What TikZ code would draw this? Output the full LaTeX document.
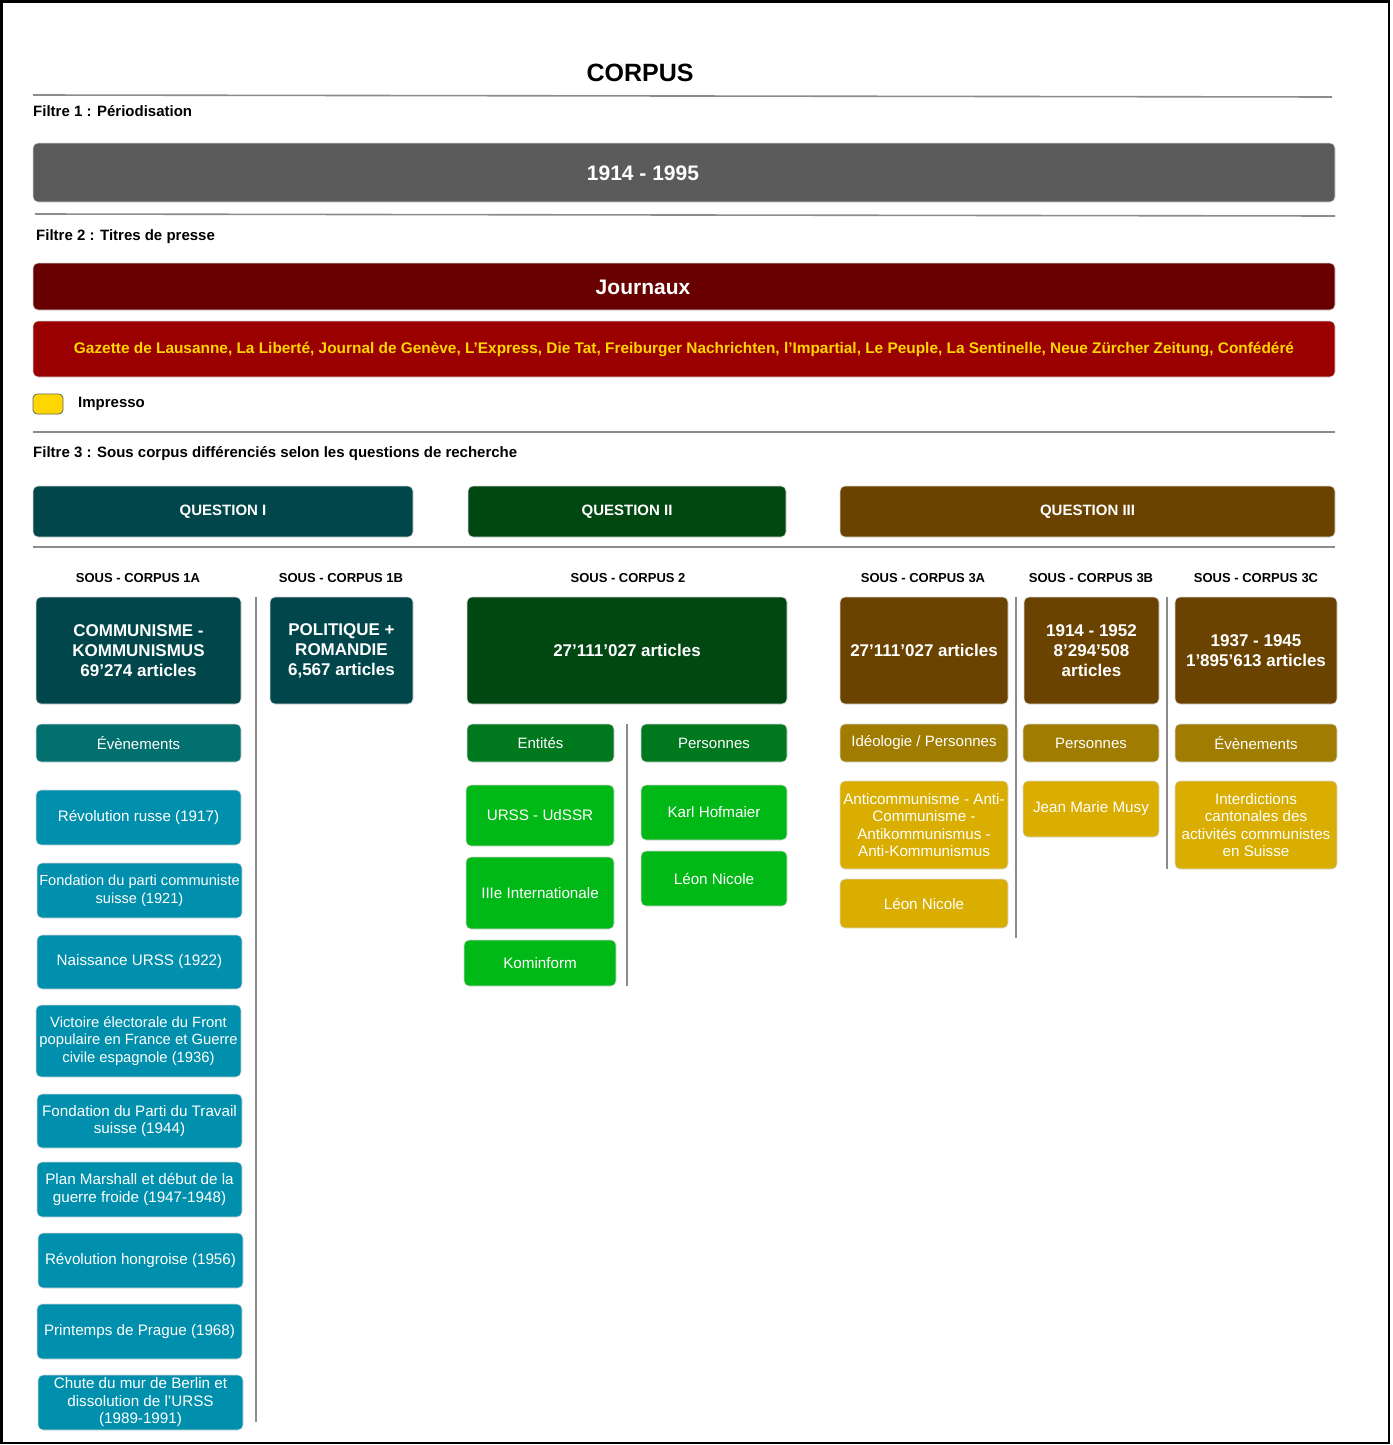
\documentclass[tikz,border=0pt]{standalone}
\usepackage{fontspec}
\setmainfont{Liberation Sans}
\definecolor{cgray}{HTML}{5B5B5B}
\definecolor{cjour}{HTML}{680000}
\definecolor{cred}{HTML}{9A0000}
\definecolor{cyel}{HTML}{FFD600}
\definecolor{ctealD}{HTML}{01464A}
\definecolor{ctealM}{HTML}{01706F}
\definecolor{ctealL}{HTML}{0090AD}
\definecolor{cgrnD}{HTML}{004711}
\definecolor{cgrnM}{HTML}{00791E}
\definecolor{cgrnL}{HTML}{00B816}
\definecolor{cbrnD}{HTML}{6A4300}
\definecolor{cbrnM}{HTML}{A07D00}
\definecolor{cbrnL}{HTML}{D9AE00}
\definecolor{cline}{HTML}{8C8C8C}
\newcommand\bx[7]{\node[#1, minimum width={(#4)-(#2)}, minimum height={(#5)-(#3)}] (#6) at ({((#2)+(#4))/2},{((#3)+(#5))/2}) {#7};}
\tikzset{
  boxbase/.style={rounded corners=5pt, inner sep=1pt, inner xsep=0pt, align=center, text=white, draw=black!15, line width=0.6pt},
  bigtxt/.style={inner sep=0pt, text=white, font=\fontsize{21}{24}\selectfont\bfseries},
  qbox/.style={boxbase, font=\fontsize{15}{18}\selectfont\bfseries},
  mainbox/.style={boxbase, font=\fontsize{17}{20}\selectfont\bfseries},
  catbox/.style={boxbase, font=\fontsize{15}{17.5}\selectfont},
  itembox/.style={boxbase, font=\fontsize{15.2}{17.5}\selectfont},
  lbl/.style={inner sep=0pt, anchor=west, font=\fontsize{15}{18}\selectfont\bfseries},
  sclbl/.style={inner sep=0pt, font=\fontsize{13}{15}\selectfont\bfseries},
  rule/.style={draw=cline, line width=1.6pt},
  sep/.style={draw=cline, line width=1.8pt},
}
\begin{document}
\begin{tikzpicture}[x=1pt,y=-1pt]
\useasboundingbox (0,0) rectangle (1392,1445);
\fill[white] (0,0) rectangle (1392,1445);
\draw[line width=2.4pt] (1.5,1.5) rectangle (1389,1443);

\node[inner sep=0pt, font=\fontsize{25}{30}\selectfont\bfseries] (title) at (640,73) {CORPUS};
\draw[rule] (33,95) -- (1332,97);
\node[lbl] (f1) at (33,111) {Filtre 1 : Périodisation};
\bx{boxbase, fill=cgray}{33}{143}{1335}{202}{period}{}
\node[bigtxt] (periodtxt) at (643,173) {1914 - 1995};
\draw[rule] (35,214) -- (1335,216);
\node[lbl] (f2) at (36,237) {Filtre 2 : Titres de presse};
\bx{boxbase, fill=cjour}{33}{263}{1335}{310}{journaux}{}
\node[bigtxt] (journauxtxt) at (643,287) {Journaux};
\bx{boxbase, fill=cred, text=cyel, font=\fontsize{15.4}{18}\selectfont\bfseries}{33}{321}{1335}{377}{titres}{Gazette de Lausanne, La Liberté, Journal de Genève, L’Express, Die Tat, Freiburger Nachrichten, l’Impartial, Le Peuple, La Sentinelle, Neue Zürcher Zeitung, Confédéré}
\bx{rounded corners=4pt, fill=cyel, draw=black!60, line width=0.8pt, inner sep=0pt}{33}{394}{63}{414}{swatch}{}
\node[lbl] (impresso) at (78,404) {Impresso};
\draw[rule] (33,432) -- (1335,432);
\node[lbl] (f3) at (33,454) {Filtre 3 : Sous corpus différenciés selon les questions de recherche};

\bx{qbox, fill=ctealD}{33}{486}{413}{537}{q1}{QUESTION I}
\bx{qbox, fill=cgrnD}{468}{486}{786}{537}{q2}{QUESTION II}
\bx{qbox, fill=cbrnD}{840}{486}{1335}{537}{q3}{QUESTION III}
\draw[rule] (33,547) -- (1335,547);

\node[sclbl] (l1a) at (138,578) {SOUS - CORPUS 1A};
\node[sclbl] (l1b) at (341,578) {SOUS - CORPUS 1B};
\node[sclbl] (l2) at (628,578) {SOUS - CORPUS 2};
\node[sclbl] (l3a) at (923,578) {SOUS - CORPUS 3A};
\node[sclbl] (l3b) at (1091,578) {SOUS - CORPUS 3B};
\node[sclbl] (l3c) at (1256,578) {SOUS - CORPUS 3C};

\bx{mainbox, fill=ctealD}{36}{597}{241}{704}{m1a}{COMMUNISME -\\KOMMUNISMUS\\69’274 articles}
\bx{mainbox, fill=ctealD}{270}{597}{413}{704}{m1b}{POLITIQUE +\\ROMANDIE\\6,567 articles}
\bx{mainbox, fill=cgrnD}{467}{597}{787}{704}{m2}{27’111’027 articles}
\bx{mainbox, fill=cbrnD}{840}{597}{1008}{704}{m3a}{27’111’027 articles}
\bx{mainbox, fill=cbrnD}{1024}{597}{1159}{704}{m3b}{1914 - 1952\\8’294’508\\articles}
\bx{mainbox, fill=cbrnD}{1175}{597}{1337}{704}{m3c}{1937 - 1945\\1’895’613 articles}

\draw[sep] (256,597) -- (256,1422);
\draw[sep] (627,724) -- (627,986);
\draw[sep] (1016,597) -- (1016,938);
\draw[sep] (1167,597) -- (1167,869);

\bx{catbox, fill=ctealM}{36}{724}{241}{762}{c1a}{Évènements}
\bx{catbox, fill=cgrnM}{467}{724}{614}{762}{c2a}{Entités}
\bx{catbox, fill=cgrnM}{641}{724}{787}{762}{c2b}{Personnes}
\bx{catbox, fill=cbrnM}{840}{724}{1008}{762}{c3a}{Idéologie / Personnes}
\bx{catbox, fill=cbrnM}{1023}{724}{1159}{762}{c3b}{Personnes}
\bx{catbox, fill=cbrnM}{1175}{724}{1337}{762}{c3c}{Évènements}

\bx{itembox, fill=ctealL}{36}{790}{241}{845}{e1}{Révolution russe (1917)}
\bx{itembox, fill=ctealL, font=\fontsize{14.6}{17.5}\selectfont}{37}{863}{242}{918}{e2}{Fondation du parti communiste\\suisse (1921)}
\bx{itembox, fill=ctealL}{37}{935}{242}{989}{e3}{Naissance URSS (1922)}
\bx{itembox, fill=ctealL, font=\fontsize{14.8}{17.5}\selectfont}{36}{1005}{241}{1077}{e4}{Victoire électorale du Front\\populaire en France et Guerre\\civile espagnole (1936)}
\bx{itembox, fill=ctealL}{37}{1094}{242}{1148}{e5}{Fondation du Parti du Travail\\suisse (1944)}
\bx{itembox, fill=ctealL}{37}{1162}{242}{1217}{e6}{Plan Marshall et début de la\\guerre froide (1947-1948)}
\bx{itembox, fill=ctealL}{38}{1233}{243}{1288}{e7}{Révolution hongroise (1956)}
\bx{itembox, fill=ctealL}{37}{1304}{242}{1359}{e8}{Printemps de Prague (1968)}
\bx{itembox, fill=ctealL}{38}{1375}{243}{1430}{e9}{Chute du mur de Berlin et\\dissolution de l'URSS\\(1989-1991)}

\bx{itembox, fill=cgrnL}{466}{785}{614}{846}{g1}{URSS - UdSSR}
\bx{itembox, fill=cgrnL}{466}{857}{614}{929}{g2}{IIIe Internationale}
\bx{itembox, fill=cgrnL}{464}{940}{616}{986}{g3}{Kominform}
\bx{itembox, fill=cgrnL}{641}{785}{787}{840}{g4}{Karl Hofmaier}
\bx{itembox, fill=cgrnL}{641}{851}{787}{906}{g5}{Léon Nicole}

\bx{itembox, fill=cbrnL}{840}{781}{1008}{869}{y1}{Anticommunisme - Anti-\\Communisme -\\Antikommunismus -\\Anti-Kommunismus}
\bx{itembox, fill=cbrnL}{840}{879}{1008}{928}{y2}{Léon Nicole}
\bx{itembox, fill=cbrnL}{1023}{781}{1159}{837}{y3}{Jean Marie Musy}
\bx{itembox, fill=cbrnL}{1175}{781}{1337}{869}{y4}{Interdictions\\cantonales des\\activités communistes\\en Suisse}
\end{tikzpicture}
\end{document}
